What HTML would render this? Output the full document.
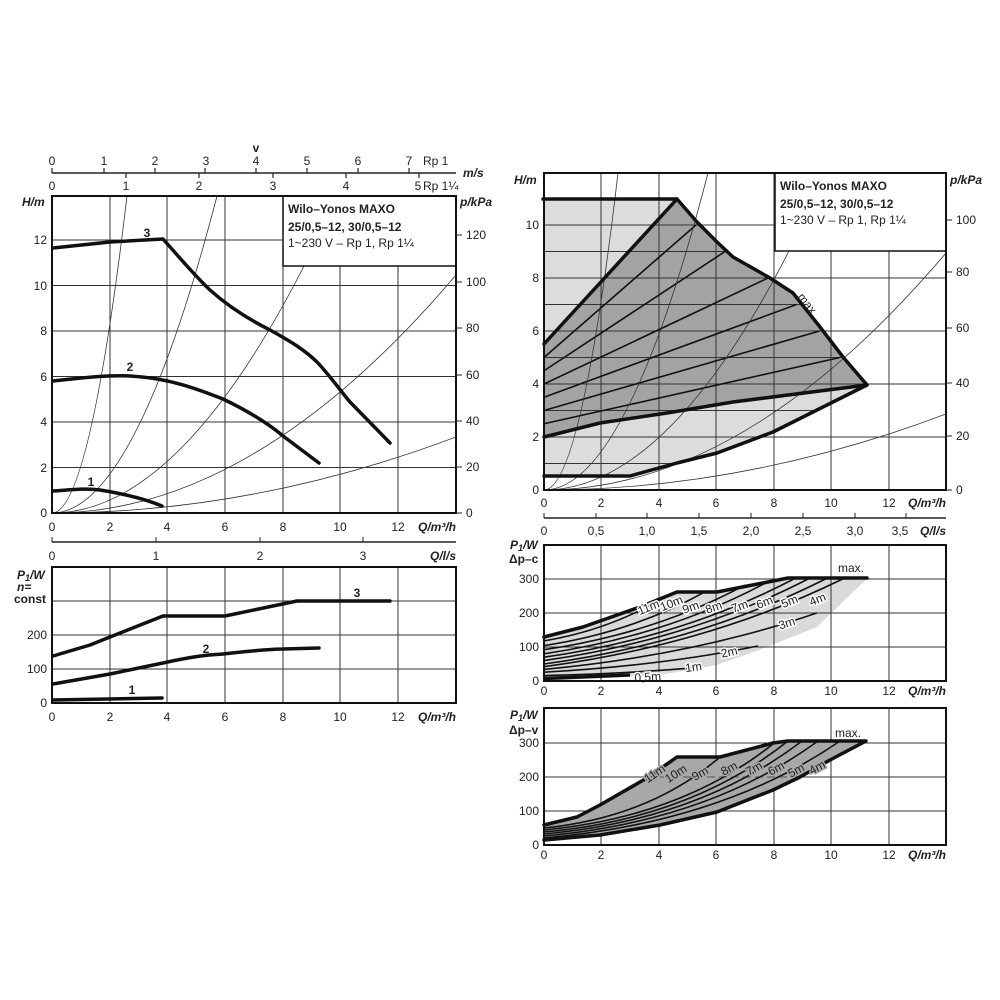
<!DOCTYPE html>
<html><head><meta charset="utf-8"><style>
html,body{margin:0;padding:0;background:#fff}
svg{display:block}
text{font-family:"Liberation Sans",sans-serif;fill:#222;font-size:12px}
.b{font-weight:bold}
.g{stroke:#333;stroke-width:1;fill:none}
.t{stroke:#333;stroke-width:0.8;fill:none}
.k{stroke:#111;stroke-width:3.5;fill:none;stroke-linejoin:round;stroke-linecap:round}
.m{stroke:#111;stroke-width:1.6;fill:none}
.lb{font-size:11px;paint-order:stroke;stroke:#fff;stroke-width:3px}
.lg{font-size:11px;paint-order:stroke;stroke:#a8a8a8;stroke-width:3px}
</style></head><body>
<svg width="1000" height="1000" viewBox="0 0 1000 1000" xmlns="http://www.w3.org/2000/svg">
<defs>
<clipPath id="cl"><rect x="52" y="196" width="404" height="317"/></clipPath>
<clipPath id="cr"><rect x="544" y="173" width="402" height="317"/></clipPath>
<clipPath id="cu"><path d="M543,199 L677,199 L697,222 L717,242 L733,257 L770,278 L793,293 L820,327 L843,357 L867,385 L773,432 L717,453 L677,463 L630,476 L544,476 Z"/></clipPath>
</defs>

<!-- ============ LEFT TOP ============ -->
<text x="256" y="152" text-anchor="middle" class="b">v</text>
<line x1="52" y1="173" x2="456" y2="173" stroke="#222" stroke-width="1.5"/>
<g stroke="#222" stroke-width="1.2">
<line x1="52" y1="168" x2="52" y2="173"/><line x1="104" y1="168" x2="104" y2="173"/><line x1="155" y1="168" x2="155" y2="173"/><line x1="205" y1="168" x2="205" y2="173"/><line x1="256" y1="168" x2="256" y2="173"/><line x1="307" y1="168" x2="307" y2="173"/><line x1="358" y1="168" x2="358" y2="173"/><line x1="409" y1="168" x2="409" y2="173"/>
<line x1="126" y1="173" x2="126" y2="178"/><line x1="199" y1="173" x2="199" y2="178"/><line x1="273" y1="173" x2="273" y2="178"/><line x1="346" y1="173" x2="346" y2="178"/><line x1="419" y1="173" x2="419" y2="178"/>
</g>
<g text-anchor="middle">
<text x="52" y="165">0</text><text x="104" y="165">1</text><text x="155" y="165">2</text><text x="206" y="165">3</text><text x="256" y="165">4</text><text x="307" y="165">5</text><text x="358" y="165">6</text><text x="409" y="165">7</text>
<text x="52" y="190">0</text><text x="126" y="190">1</text><text x="199" y="190">2</text><text x="273" y="190">3</text><text x="346" y="190">4</text><text x="418" y="190">5</text>
</g>
<text x="423" y="165">Rp 1</text><text x="423" y="190">Rp 1¼</text>
<text x="463" y="177" class="b" font-style="italic">m/s</text>

<g class="g">
<line x1="110" y1="196" x2="110" y2="513"/><line x1="167" y1="196" x2="167" y2="513"/><line x1="225" y1="196" x2="225" y2="513"/><line x1="283" y1="196" x2="283" y2="513"/><line x1="340" y1="196" x2="340" y2="513"/><line x1="398" y1="196" x2="398" y2="513"/>
<line x1="52" y1="467.5" x2="456" y2="467.5"/><line x1="52" y1="422" x2="456" y2="422"/><line x1="52" y1="376.5" x2="456" y2="376.5"/><line x1="52" y1="331" x2="456" y2="331"/><line x1="52" y1="285.5" x2="456" y2="285.5"/><line x1="52" y1="240" x2="456" y2="240"/>
</g>
<g class="t" clip-path="url(#cl)">
<path d="M52,513 Q89.5,513 127,196"/><path d="M52,513 Q134.5,513 217,196"/><path d="M52,513 Q178,513 304,266 T420,-200"/><path d="M52,513 Q254,513 456,275"/><path d="M52,513 Q254,513 456,437"/>
</g>
<rect x="283" y="196" width="173" height="70" fill="#fff" stroke="#111" stroke-width="1.5"/>
<text x="288" y="213" class="b" font-size="14">Wilo–Yonos MAXO</text>
<text x="288" y="231" class="b" font-size="14">25/0,5–12, 30/0,5–12</text>
<text x="288" y="247" font-size="11.5">1~230 V – Rp 1, Rp 1¼</text>
<rect x="52" y="196" width="404" height="317" fill="none" stroke="#111" stroke-width="2"/>
<path class="k" d="M53,248 L110,242 L163,239 C180,258 195,276 210,290 C230,308 250,320 270,330 C290,341 305,350 318,363 C330,376 340,390 350,402 L390,443"/>
<path class="k" d="M53,381 C80,378 105,375 130,376 C170,378 200,390 223,399 C250,412 270,425 283,436 L319,463"/>
<path class="k" d="M53,491 C70,490 85,488 100,490 C125,494 145,499 162,506"/>
<text x="147" y="237" text-anchor="middle" class="b">3</text>
<text x="130" y="371" text-anchor="middle" class="b">2</text>
<text x="91" y="486" text-anchor="middle" class="b">1</text>
<text x="22" y="206" class="b" font-style="italic">H/m</text>
<g text-anchor="end">
<text x="47" y="517">0</text><text x="47" y="472">2</text><text x="47" y="426">4</text><text x="47" y="381">6</text><text x="47" y="335">8</text><text x="47" y="290">10</text><text x="47" y="244">12</text>
</g>
<g stroke="#222"><line x1="456" y1="513" x2="462" y2="513"/><line x1="456" y1="467" x2="462" y2="467"/><line x1="456" y1="421" x2="462" y2="421"/><line x1="456" y1="375" x2="462" y2="375"/><line x1="456" y1="328" x2="462" y2="328"/><line x1="456" y1="282" x2="462" y2="282"/><line x1="456" y1="235" x2="462" y2="235"/></g>
<text x="460" y="206" class="b" font-style="italic">p/kPa</text>
<g><text x="466" y="517">0</text><text x="466" y="471">20</text><text x="466" y="425">40</text><text x="466" y="379">60</text><text x="466" y="332">80</text><text x="466" y="286">100</text><text x="466" y="239">120</text></g>
<g text-anchor="middle"><text x="52" y="531">0</text><text x="110" y="531">2</text><text x="167" y="531">4</text><text x="225" y="531">6</text><text x="283" y="531">8</text><text x="340" y="531">10</text><text x="398" y="531">12</text></g>
<text x="456" y="531" text-anchor="end" class="b" font-style="italic">Q/m³/h</text>

<!-- ============ LEFT BOTTOM ============ -->
<line x1="52" y1="542" x2="456" y2="542" stroke="#222" stroke-width="1.5"/>
<g stroke="#222"><line x1="52" y1="537" x2="52" y2="542"/><line x1="156" y1="537" x2="156" y2="542"/><line x1="260" y1="537" x2="260" y2="542"/><line x1="363" y1="537" x2="363" y2="542"/></g>
<g text-anchor="middle"><text x="52" y="560">0</text><text x="156" y="560">1</text><text x="260" y="560">2</text><text x="363" y="560">3</text></g>
<text x="456" y="560" text-anchor="end" class="b" font-style="italic">Q/l/s</text>
<g class="g">
<line x1="110" y1="567" x2="110" y2="703"/><line x1="167" y1="567" x2="167" y2="703"/><line x1="225" y1="567" x2="225" y2="703"/><line x1="283" y1="567" x2="283" y2="703"/><line x1="340" y1="567" x2="340" y2="703"/><line x1="398" y1="567" x2="398" y2="703"/>
<line x1="52" y1="669" x2="456" y2="669"/><line x1="52" y1="635" x2="456" y2="635"/><line x1="52" y1="601" x2="456" y2="601"/>
</g>
<rect x="52" y="567" width="404" height="136" fill="none" stroke="#111" stroke-width="2"/>
<path class="k" d="M53,656 L90,645 L110,637 L163,616 L225,616 L297,601 L390,601"/>
<path class="k" d="M53,684 L110,674 L163,663 C190,657 205,655 223,654 C250,651 270,649 283,649 L319,648"/>
<path class="k" d="M53,700 L162,698"/>
<text x="357" y="597" text-anchor="middle" class="b">3</text>
<text x="206" y="653" text-anchor="middle" class="b">2</text>
<text x="132" y="694" text-anchor="middle" class="b">1</text>
<text x="17" y="579" class="b" font-style="italic">P<tspan font-size="9" dy="2">1</tspan><tspan dy="-2">/W</tspan></text>
<text x="17" y="591" class="b" font-style="italic" font-size="11">n=</text>
<text x="14" y="603" class="b">const</text>
<g text-anchor="end"><text x="47" y="707">0</text><text x="47" y="673">100</text><text x="47" y="639">200</text></g>
<g text-anchor="middle"><text x="52" y="721">0</text><text x="110" y="721">2</text><text x="167" y="721">4</text><text x="225" y="721">6</text><text x="283" y="721">8</text><text x="340" y="721">10</text><text x="398" y="721">12</text></g>
<text x="456" y="721" text-anchor="end" class="b" font-style="italic">Q/m³/h</text>

<!-- ============ RIGHT TOP ============ -->
<g class="g">
<line x1="601" y1="173" x2="601" y2="490"/><line x1="659" y1="173" x2="659" y2="490"/><line x1="716" y1="173" x2="716" y2="490"/><line x1="774" y1="173" x2="774" y2="490"/><line x1="831" y1="173" x2="831" y2="490"/><line x1="889" y1="173" x2="889" y2="490"/>
<line x1="544" y1="437" x2="946" y2="437"/><line x1="544" y1="384" x2="946" y2="384"/><line x1="544" y1="331" x2="946" y2="331"/><line x1="544" y1="278" x2="946" y2="278"/><line x1="544" y1="225" x2="946" y2="225"/>
</g>
<path d="M543,199 L677,199 L697,222 L717,242 L733,257 L770,278 L793,293 L820,327 L843,357 L867,385 L773,432 L717,453 L677,463 L630,476 L544,476 Z" fill="#dcdcdc"/>
<path d="M544,344 L677,199 L697,222 L717,242 L733,257 L770,278 L793,293 L820,327 L843,357 L867,385 L733,402 L667,413 L600,423 L544,437 Z" fill="#a3a3a3"/>
<g class="g" clip-path="url(#cu)" stroke="#222">
<line x1="544" y1="463.5" x2="946" y2="463.5"/><line x1="544" y1="437" x2="946" y2="437"/><line x1="544" y1="410.5" x2="946" y2="410.5"/><line x1="544" y1="384" x2="946" y2="384"/><line x1="544" y1="357.5" x2="946" y2="357.5"/><line x1="544" y1="331" x2="946" y2="331"/><line x1="544" y1="304.5" x2="946" y2="304.5"/><line x1="544" y1="278" x2="946" y2="278"/><line x1="544" y1="251.5" x2="946" y2="251.5"/><line x1="544" y1="225" x2="946" y2="225"/>
<line x1="601" y1="173" x2="601" y2="490"/><line x1="659" y1="173" x2="659" y2="490"/><line x1="716" y1="173" x2="716" y2="490"/><line x1="774" y1="173" x2="774" y2="490"/><line x1="831" y1="173" x2="831" y2="490"/>
</g>
<g class="m">
<line x1="544" y1="423.75" x2="840" y2="357.5"/><line x1="544" y1="410.5" x2="819.6" y2="331"/><line x1="544" y1="397.25" x2="796.6" y2="304.5"/><line x1="544" y1="384" x2="768" y2="278"/><line x1="544" y1="370.75" x2="725" y2="251.5"/><line x1="544" y1="357.5" x2="696" y2="225"/>
</g>
<g class="t" clip-path="url(#cr)">
<path d="M544,490 Q581,490 618,173"/><path d="M544,490 Q626,490 708,173"/><path d="M544,490 Q666.5,490 789,251 T900,-200"/><path d="M544,490 Q745,490 946,253"/><path d="M544,490 Q745,490 946,414"/>
</g>
<path class="k" d="M543,199 L677,199 L697,222 L717,242 L733,257 L770,278 L793,293 L820,327 L843,357 L867,385"/>
<path class="k" d="M544,344 L677,199"/>
<path class="k" d="M544,437 L600,423 L667,413 L733,402 L867,385 L773,432 L717,453 L677,463 L630,476 L544,476"/>
<text transform="translate(797,297) rotate(52)" font-size="11">max.</text>
<rect x="775" y="173" width="171" height="78" fill="#fff" stroke="#111" stroke-width="1.5"/>
<text x="780" y="190" class="b" font-size="14">Wilo–Yonos MAXO</text>
<text x="780" y="208" class="b" font-size="14">25/0,5–12, 30/0,5–12</text>
<text x="780" y="224" font-size="11.5">1~230 V – Rp 1, Rp 1¼</text>
<rect x="544" y="173" width="402" height="317" fill="none" stroke="#111" stroke-width="2"/>
<text x="514" y="184" class="b" font-style="italic">H/m</text>
<g text-anchor="end"><text x="539" y="494">0</text><text x="539" y="441">2</text><text x="539" y="388">4</text><text x="539" y="335">6</text><text x="539" y="282">8</text><text x="539" y="229">10</text></g>
<g stroke="#222"><line x1="946" y1="490" x2="952" y2="490"/><line x1="946" y1="436" x2="952" y2="436"/><line x1="946" y1="383" x2="952" y2="383"/><line x1="946" y1="328" x2="952" y2="328"/><line x1="946" y1="272" x2="952" y2="272"/><line x1="946" y1="220" x2="952" y2="220"/></g>
<text x="950" y="184" class="b" font-style="italic">p/kPa</text>
<g><text x="956" y="494">0</text><text x="956" y="440">20</text><text x="956" y="387">40</text><text x="956" y="332">60</text><text x="956" y="276">80</text><text x="956" y="224">100</text></g>
<g text-anchor="middle"><text x="544" y="507">0</text><text x="601" y="507">2</text><text x="659" y="507">4</text><text x="716" y="507">6</text><text x="774" y="507">8</text><text x="831" y="507">10</text><text x="889" y="507">12</text></g>
<text x="946" y="507" text-anchor="end" class="b" font-style="italic">Q/m³/h</text>
<line x1="544" y1="518" x2="946" y2="518" stroke="#222" stroke-width="1.5"/>
<g stroke="#222"><line x1="544" y1="513" x2="544" y2="518"/><line x1="596" y1="513" x2="596" y2="518"/><line x1="647" y1="513" x2="647" y2="518"/><line x1="699" y1="513" x2="699" y2="518"/><line x1="751" y1="513" x2="751" y2="518"/><line x1="803" y1="513" x2="803" y2="518"/><line x1="855" y1="513" x2="855" y2="518"/><line x1="906" y1="513" x2="906" y2="518"/></g>
<g text-anchor="middle"><text x="544" y="535">0</text><text x="596" y="535">0,5</text><text x="647" y="535">1,0</text><text x="699" y="535">1,5</text><text x="751" y="535">2,0</text><text x="803" y="535">2,5</text><text x="855" y="535">3,0</text><text x="900" y="535">3,5</text></g>
<text x="946" y="535" text-anchor="end" class="b" font-style="italic">Q/l/s</text>

<!-- ============ RIGHT MIDDLE ============ -->
<path d="M544,637 L583,627 L640,607 L677,592 L717,592 L773,581 L788,579 L867,579 L853,592 L817,627 L767,647 L717,665 L660,675 L544,681 Z" fill="#dadada"/>
<g class="g">
<line x1="601" y1="545" x2="601" y2="681"/><line x1="659" y1="545" x2="659" y2="681"/><line x1="716" y1="545" x2="716" y2="681"/><line x1="774" y1="545" x2="774" y2="681"/><line x1="831" y1="545" x2="831" y2="681"/><line x1="889" y1="545" x2="889" y2="681"/>
<line x1="544" y1="647" x2="946" y2="647"/><line x1="544" y1="613" x2="946" y2="613"/><line x1="544" y1="579" x2="946" y2="579"/>
</g>
<g class="m">
<path d="M544,640.9 Q611.9,629.5 667.5,595.3"/><path d="M544,645.6 Q632.4,632.2 704.8,591.9"/><path d="M544,649.7 Q654.6,633.5 745,585.1"/><path d="M544,653.8 Q667.2,635.8 768,581.7"/><path d="M544,657.2 Q681.4,637.7 793.8,579"/><path d="M544,660.6 Q689.3,640 808.1,579"/><path d="M544,664 Q698.8,642.8 825.4,579"/><path d="M544,666.7 Q708.2,644.8 842.6,579"/><path d="M544,669.4 Q694,655.3 816.7,613"/><path d="M544,672.2 Q661.6,665.6 757.9,646"/><path d="M544,675.6 Q630.8,673.5 701.9,667.1"/>
</g>
<path d="M544,678.5 L630,675" stroke="#111" stroke-width="3.5"/>
<path class="k" d="M544,637 L583,627 L640,607 L677,592 L717,592 L773,581 L788,578 L867,578"/>
<g class="lb">
<text transform="translate(650,611) rotate(-22)" text-anchor="middle">11m</text>
<text transform="translate(673,607) rotate(-22)" text-anchor="middle">10m</text>
<text transform="translate(692,611) rotate(-20)" text-anchor="middle">9m</text>
<text transform="translate(715,611) rotate(-20)" text-anchor="middle">8m</text>
<text transform="translate(741,610) rotate(-20)" text-anchor="middle">7m</text>
<text transform="translate(766,606) rotate(-22)" text-anchor="middle">6m</text>
<text transform="translate(791,605) rotate(-22)" text-anchor="middle">5m</text>
<text transform="translate(819,603) rotate(-22)" text-anchor="middle">4m</text>
<text transform="translate(788,627) rotate(-18)" text-anchor="middle">3m</text>
<text transform="translate(730,656) rotate(-12)" text-anchor="middle">2m</text>
<text transform="translate(694,671) rotate(-8)" text-anchor="middle">1m</text>
<text transform="translate(648,681) rotate(-4)" text-anchor="middle">0,5m</text>
</g>
<text x="838" y="572" font-size="11">max.</text>
<rect x="544" y="545" width="402" height="136" fill="none" stroke="#111" stroke-width="2"/>
<text x="510" y="549" class="b" font-style="italic">P<tspan font-size="9" dy="2">1</tspan><tspan dy="-2">/W</tspan></text>
<text x="509" y="563" class="b">Δp–c</text>
<g text-anchor="end"><text x="539" y="685">0</text><text x="539" y="651">100</text><text x="539" y="617">200</text><text x="539" y="583">300</text></g>
<g text-anchor="middle"><text x="544" y="695">0</text><text x="601" y="695">2</text><text x="659" y="695">4</text><text x="716" y="695">6</text><text x="774" y="695">8</text><text x="831" y="695">10</text><text x="889" y="695">12</text></g>
<text x="946" y="695" text-anchor="end" class="b" font-style="italic">Q/m³/h</text>

<!-- ============ RIGHT BOTTOM ============ -->
<g class="g">
<line x1="601" y1="708" x2="601" y2="845"/><line x1="659" y1="708" x2="659" y2="845"/><line x1="716" y1="708" x2="716" y2="845"/><line x1="774" y1="708" x2="774" y2="845"/><line x1="831" y1="708" x2="831" y2="845"/><line x1="889" y1="708" x2="889" y2="845"/>
<line x1="544" y1="811" x2="946" y2="811"/><line x1="544" y1="777" x2="946" y2="777"/><line x1="544" y1="743" x2="946" y2="743"/>
</g>
<path d="M544,825 L577,817 L600,805 L647,778 L677,757 L720,757 L773,743 L788,741 L866,741 L830,760 L800,777 L773,790 L717,812 L660,825 L600,835 L544,840 Z" fill="#a8a8a8"/>
<line x1="647" y1="777" x2="800" y2="777" stroke="#555" stroke-width="1" stroke-dasharray="8,4"/>
<g class="m">
<path d="M544,828 Q649.6,817.5 720,757"/><path d="M544,830 Q681.4,816.9 773,744"/><path d="M544,832 Q690.4,818.7 788,741"/><path d="M544,834 Q698.8,820 802,741"/><path d="M544,836 Q708.4,821.3 818,741"/><path d="M544,838 Q721.6,822.5 840,741"/>
</g>
<path class="k" d="M544,825 L577,817 L600,805 L647,778 L677,757 L720,757 L773,743 L788,741 L866,741 L830,760 L800,777 L773,790 L717,812 L660,825 L600,835 L544,840"/>
<g class="lg">
<text transform="translate(657,777) rotate(-35)" text-anchor="middle">11m</text>
<text transform="translate(678,777) rotate(-33)" text-anchor="middle">10m</text>
<text transform="translate(702,777) rotate(-30)" text-anchor="middle">9m</text>
<text transform="translate(731,772) rotate(-28)" text-anchor="middle">8m</text>
<text transform="translate(756,772) rotate(-28)" text-anchor="middle">7m</text>
<text transform="translate(778,772) rotate(-28)" text-anchor="middle">6m</text>
<text transform="translate(798,774) rotate(-28)" text-anchor="middle">5m</text>
<text transform="translate(819,771) rotate(-28)" text-anchor="middle">4m</text>
</g>
<text x="835" y="737" font-size="11">max.</text>
<rect x="544" y="708" width="402" height="137" fill="none" stroke="#111" stroke-width="2"/>
<text x="510" y="719" class="b" font-style="italic">P<tspan font-size="9" dy="2">1</tspan><tspan dy="-2">/W</tspan></text>
<text x="509" y="734" class="b">Δp–v</text>
<g text-anchor="end"><text x="539" y="849">0</text><text x="539" y="815">100</text><text x="539" y="781">200</text><text x="539" y="747">300</text></g>
<g text-anchor="middle"><text x="544" y="859">0</text><text x="601" y="859">2</text><text x="659" y="859">4</text><text x="716" y="859">6</text><text x="774" y="859">8</text><text x="831" y="859">10</text><text x="889" y="859">12</text></g>
<text x="946" y="859" text-anchor="end" class="b" font-style="italic">Q/m³/h</text>
</svg>
</body></html>
